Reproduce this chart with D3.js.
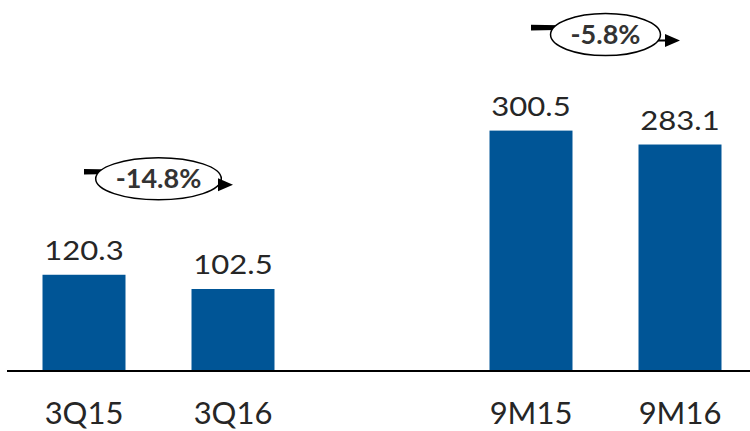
<!DOCTYPE html>
<html>
<head>
<meta charset="utf-8">
<script src="https://cdn.jsdelivr.net/npm/d3@7"></script>
<style>
  html, body { margin: 0; padding: 0; background: #fff; }
  svg { display: block; }
</style>
</head>
<body>
<svg id="chart" width="750" height="431"></svg>
<script>
// categories (the empty one is only a spacer between the two groups)
var categories = ["3Q15", "3Q16", "", "9M15", "9M16"];
var values = [120.3, 102.5, null, 300.5, 283.1];
// change between the two bars of each group
var changeFrom = ["3Q15", "9M15"];
var changeTo = ["3Q16", "9M16"];
var changeLabels = ["-14.8%", "-5.8%"];

var svg = d3.select("#chart"),
    WIDTH = 750,
    HEIGHT = 431,
    BASE = 371,
    FONT = "Lato, 'Open Sans', sans-serif";

var x = d3.scaleBand()
    .domain(categories)
    .range([9.5, 754.5])
    .paddingInner(0.443)
    .paddingOuter(0.2215);

var y = d3.scaleLinear()
    .domain([0, 463.75])
    .range([BASE, 0]);

var bw = x.bandwidth();
var bars = categories.map(function(c, i) { return { cat: c, val: values[i] }; })
    .filter(function(d) { return d.val != null; });

svg.selectAll("rect.bar")
    .data(bars)
    .enter().append("rect")
    .attr("class", "bar")
    .attr("x", function(d) { return x(d.cat); })
    .attr("y", function(d) { return y(d.val); })
    .attr("width", bw)
    .attr("height", function(d) { return y(0) - y(d.val); })
    .attr("fill", "#005596");

// value labels
svg.selectAll("g.vlabel")
    .data(bars)
    .enter().append("g")
    .attr("class", "vlabel")
    .attr("transform", function(d) {
        return "translate(" + (x(d.cat) + bw / 2) + "," + (y(d.val) - 15) + ") scale(1.15,1)";
    })
    .append("text")
    .attr("text-anchor", "middle")
    .attr("font-family", FONT)
    .attr("font-size", 27)
    .attr("fill", "#262626")
    .text(function(d) { return d3.format(".1f")(d.val); });

// category axis
var xAxis = d3.axisBottom(x).tickSize(0).tickPadding(31);
var gx = svg.append("g")
    .attr("transform", "translate(0," + BASE + ")")
    .call(xAxis);
gx.select(".domain").remove();
gx.selectAll("text")
    .attr("font-family", FONT)
    .attr("font-size", 31)
    .attr("fill", "#262626");

svg.append("line")
    .attr("x1", 7).attr("x2", WIDTH)
    .attr("y1", BASE).attr("y2", BASE)
    .attr("stroke", "#000")
    .attr("stroke-width", 2);

// change annotations
changeLabels.forEach(function(label, i) {
    var a = changeFrom[i], b = changeTo[i];
    var va = values[categories.indexOf(a)], vb = values[categories.indexOf(b)];
    var x0 = x(a) + bw / 2, x1 = x(b) + bw / 2;
    var mid = (x0 + x1) / 2;
    var cy = y(Math.max(va, vb)) - 96;
    var g = svg.append("g");

    var sy = cy - 7;
    g.append("path")
        .attr("d", "M" + x0 + "," + (sy - 2.8) + "L" + mid + "," + (sy - 1.5) +
              "L" + mid + "," + (sy + 1.5) + "L" + x0 + "," + (sy + 2.8) + "Z")
        .attr("fill", "#000");

    var ay = cy + 6;
    g.append("line")
        .attr("x1", mid).attr("x2", x1 - 10)
        .attr("y1", ay).attr("y2", ay)
        .attr("stroke", "#000")
        .attr("stroke-width", 2);

    var ell = g.append("ellipse")
        .attr("cx", mid).attr("cy", cy)
        .attr("ry", 21)
        .attr("fill", "#fff")
        .attr("stroke", "#000")
        .attr("stroke-width", 1.5);

    g.append("path")
        .attr("d", "M" + x1 + "," + ay + "L" + (x1 - 15) + "," + (ay - 6.5) +
              "L" + (x1 - 15) + "," + (ay + 6.5) + "Z")
        .attr("fill", "#000");

    var t = g.append("text")
        .attr("x", mid).attr("y", cy)
        .attr("dy", "0.36em")
        .attr("text-anchor", "middle")
        .attr("font-family", FONT)
        .attr("font-weight", "bold")
        .attr("font-size", 27)
        .attr("fill", "#333")
        .text(label);

    var w = t.node().getComputedTextLength();
    ell.attr("rx", w / 2 + 20);
});
</script>
</body>
</html>
